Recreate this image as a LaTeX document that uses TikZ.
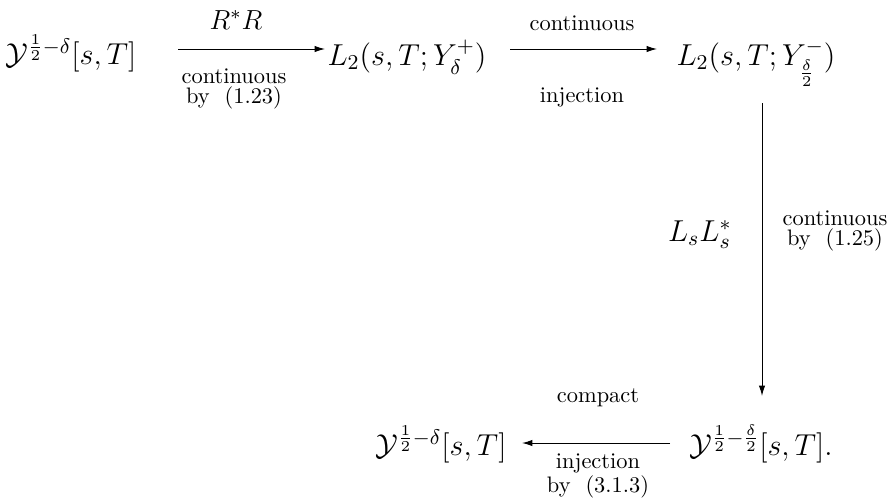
\documentclass[tikz,border=0pt]{standalone}
\usepackage{fix-cm}
\usepackage{amsmath}
\usetikzlibrary{arrows.meta}
\begin{document}
\begin{tikzpicture}[x=0.4464pt,y=-0.4464pt,
  obj/.style={anchor=base,inner sep=0pt,font=\fontsize{13.5}{16}\selectfont},
  lab/.style={anchor=base,inner sep=0pt,font=\fontsize{10}{12}\selectfont},
  lab2/.style={anchor=base,inner sep=0pt,align=center,font=\fontsize{10}{7.2}\selectfont},
  arr/.style={line width=0.45pt,-{Latex[length=4.6pt,width=2.8pt]}}]
\useasboundingbox (0,0) rectangle (891,503);
% objects
\node[obj] (A) at (71,64) {$\mathcal{Y}^{\frac12-\delta}[s,T]$};
\node[obj] (B) at (407,65) {$L_2(s,T;Y_\delta^+)$};
\node[obj] (C) at (756,65) {$L_2(s,T;Y_{\frac{\delta}{2}}^-)$};
\node[obj] (D) at (761,455) {$\mathcal{Y}^{\frac12-\frac{\delta}{2}}[s,T].$};
\node[obj] (E) at (441,455) {$\mathcal{Y}^{\frac12-\delta}[s,T]$};
% arrow end points
\coordinate (a1) at (178,49); \coordinate (a2) at (325,49);
\coordinate (b1) at (510,49); \coordinate (b2) at (657,49);
\coordinate (c1) at (762,103); \coordinate (c2) at (762,396);
\coordinate (d1) at (670,443); \coordinate (d2) at (522,443);
\draw[arr] (a1) -- (a2);
\draw[arr] (b1) -- (b2);
\draw[arr] (c1) -- (c2);
\draw[arr] (d1) -- (d2);
% labels
\node[obj,font=\fontsize{12.3}{14}\selectfont] (l1) at (236,29) {$R^*R$};
\node[lab2] (l2) at (234,103) {continuous\\by\ \ (1.23)};
\node[lab] (l3) at (582,30) {continuous};
\node[lab] (l4) at (582,102) {injection};
\node[obj,anchor=base east] (l5) at (732,241) {$L_sL_s^*$};
\node[lab2] (l6) at (835,245) {continuous\\by\ \ (1.25)};
\node[lab] (l7) at (598,402) {compact};
\node[lab2] (l8) at (598,492) {injection\\by\ \ (3.1.3)};
\end{tikzpicture}
\end{document}
